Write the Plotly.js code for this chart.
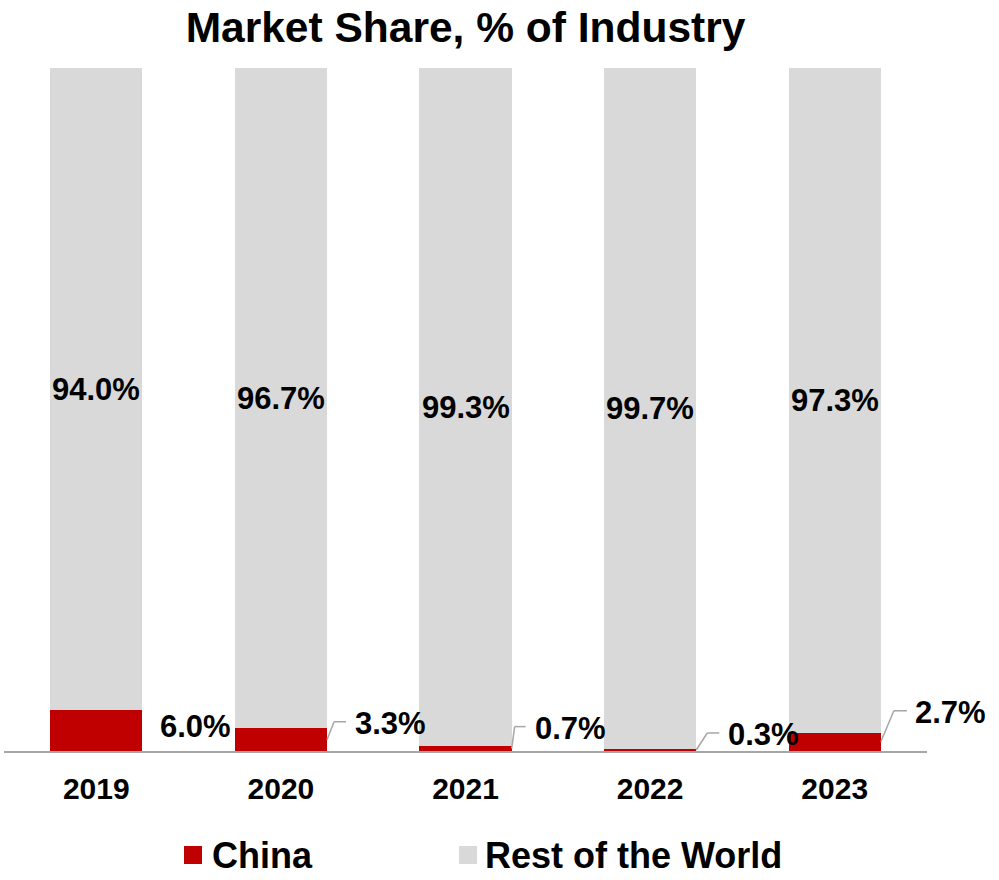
<!DOCTYPE html>
<html>
<head>
<meta charset="utf-8">
<script src="https://cdn.plot.ly/plotly-3.0.1.min.js"></script>
<style>
  html, body { margin: 0; padding: 0; background: #fff; }
  #chart { width: 999px; height: 880px; }
</style>
</head>
<body>
<div id="chart"></div>
<script>
// ---- data ----
const years = ["2019", "2020", "2021", "2022", "2023"];
const china = [6.0, 3.3, 0.7, 0.3, 2.7];
const restOfWorld = [94.0, 96.7, 99.3, 99.7, 97.3];
const seriesNames = ["China", "Rest of the World"];

// ---- styling ----
const RED = "#c00000";
const GRAY = "#d9d9d9";
const COLORS = [RED, GRAY];
const FONT = "'Liberation Sans', Arial, sans-serif";
// leader-line geometry per China label (pixels): [dx, dy, horiz, textGap]
const leader = [null, [7, 18, 12, 7], [3, 22, 11, 7], [11, 17, 12, 7], [13, 31, 13, 6]];
// manual legend placement (paper coords): symbol x, text x
const legendSymX = [0.1950, 0.4930];
const legendTextX = [0.2232, 0.5190];
const legendY = -0.1523;

const traces = [
  { type: "bar", x: years, y: china, name: seriesNames[0], marker: { color: RED }, hoverinfo: "skip" },
  { type: "bar", x: years, y: restOfWorld, name: seriesNames[1], marker: { color: GRAY }, hoverinfo: "skip" }
];

const annotations = [];
const shapes = [];
years.forEach((yr, i) => {
  annotations.push({
    x: i, y: china[i] + restOfWorld[i] / 2, xref: "x", yref: "y",
    text: restOfWorld[i].toFixed(1) + "%", showarrow: false,
    font: { family: FONT, size: 31, color: "#000", weight: "bold" }
  });
  const edge = i + 0.25;
  const mid = china[i] / 2;
  const L = leader[i];
  if (L) {
    shapes.push({ type: "line", xref: "x", yref: "y", xsizemode: "pixel", ysizemode: "pixel",
      xanchor: edge, yanchor: mid, x0: 0, y0: 0, x1: L[0], y1: L[1], line: { color: "#a6a6a6", width: 1.5 } });
    shapes.push({ type: "line", xref: "x", yref: "y", xsizemode: "pixel", ysizemode: "pixel",
      xanchor: edge, yanchor: mid, x0: L[0], y0: L[1], x1: L[0] + L[2], y1: L[1], line: { color: "#a6a6a6", width: 1.5 } });
    annotations.push({
      x: edge, y: mid, xref: "x", yref: "y", xanchor: "left", yanchor: "middle",
      xshift: L[0] + L[2] + L[3], yshift: L[1] - 2,
      text: china[i].toFixed(1) + "%", showarrow: false,
      font: { family: FONT, size: 31, color: "#000", weight: "bold" }
    });
  } else {
    annotations.push({
      x: edge, y: mid, xref: "x", yref: "y", xanchor: "left", yanchor: "middle",
      xshift: 16, yshift: 4,
      text: china[i].toFixed(1) + "%", showarrow: false,
      font: { family: FONT, size: 31, color: "#000", weight: "bold" }
    });
  }
});

// legend (drawn manually so the symbol size and spacing match)
seriesNames.forEach((nm, k) => {
  shapes.push({ type: "rect", xref: "paper", yref: "paper", xsizemode: "pixel", ysizemode: "pixel",
    xanchor: legendSymX[k], yanchor: legendY, x0: 0, x1: 18, y0: -9, y1: 9,
    fillcolor: COLORS[k], line: { width: 0 } });
  annotations.push({ x: legendTextX[k], y: legendY, xref: "paper", yref: "paper",
    xanchor: "left", yanchor: "middle", showarrow: false, text: nm,
    font: { family: FONT, size: 36, color: "#000", weight: "bold" } });
});

const layout = {
  width: 999, height: 880,
  margin: { l: 4, r: 72, t: 68, b: 129 },
  paper_bgcolor: "#fff", plot_bgcolor: "#fff",
  barmode: "stack", bargap: 0.5,
  showlegend: false,
  title: { text: "Market Share, % of Industry", x: 0.5, xref: "paper", y: 0.969, yanchor: "middle",
    font: { family: FONT, size: 42.5, color: "#000", weight: "bold" } },
  xaxis: { type: "category", range: [-0.5, 4.5], showline: true, linecolor: "#a6a6a6", linewidth: 2,
    showgrid: false, zeroline: false, ticks: "", ticklabelstandoff: 10,
    tickfont: { family: FONT, size: 30, color: "#000", weight: "bold" }, fixedrange: true },
  yaxis: { visible: false, range: [0, 100], fixedrange: true },
  annotations: annotations,
  shapes: shapes
};

Plotly.newPlot("chart", traces, layout, { displayModeBar: false, staticPlot: true });
</script>
</body>
</html>
